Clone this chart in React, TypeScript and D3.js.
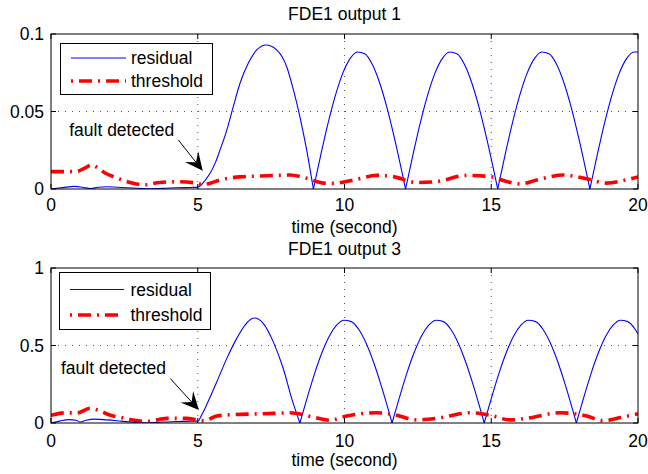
import React from 'react';
import * as d3 from 'd3';

const xTicks = [0, 5, 10, 15, 20];
const xTickLabels = ['0', '5', '10', '15', '20'];

const titles = ['FDE1 output 1', 'FDE1 output 3'];
const xLabel = 'time (second)';
const legendLabels = ['residual', 'threshold'];
const annotationText = 'fault detected';

const topYTicks = [0, 0.05, 0.1];
const topYTickLabels = ['0', '0.05', '0.1'];
const botYTicks = [0, 0.5, 1];
const botYTickLabels = ['0', '0.5', '1'];

// Top panel (output 1) residual
const topResT = [
  0, 0.4, 0.8, 1.1, 1.35, 1.6, 1.9, 2.3, 2.8, 3.3, 3.8, 4.3, 4.8,
  5.0, 5.1, 5.25, 5.42, 5.6, 5.76, 5.99, 6.21, 6.44, 6.72, 7.01, 7.33, 7.69, 8.03, 8.26, 8.48, 8.71, 8.94,
  9.19, 9.44, 9.69, 9.94, 10.19, 10.44, 10.69, 10.94, 11.19, 11.44, 11.69, 11.94, 12.08,
  12.33, 12.58, 12.83, 13.08, 13.33, 13.58, 13.83, 14.08, 14.33, 14.58, 14.83, 15.08, 15.22,
  15.47, 15.72, 15.97, 16.22, 16.47, 16.72, 16.97, 17.22, 17.47, 17.72, 17.97, 18.22, 18.36,
  18.61, 18.86, 19.11, 19.36, 19.61, 19.86, 20,
];
const topResV = [
  0, 0.0009, 0.0017, 0.001, 0.0003, 0.0011, 0.0015, 0.0011, 0.0006, 0.0002, 0.0004, 0.0008, 0.001,
  0.0012, 0.0022, 0.0055, 0.0101, 0.017, 0.0252, 0.038, 0.0531, 0.0682, 0.0811, 0.0897, 0.0929, 0.0897, 0.0789, 0.0639, 0.0467, 0.0252, 0,
  0.0219, 0.0425, 0.0604, 0.0746, 0.0841, 0.0884, 0.0872, 0.0806, 0.0689, 0.053, 0.0338, 0.0125, 0,
  0.0219, 0.0425, 0.0604, 0.0746, 0.0841, 0.0884, 0.0872, 0.0806, 0.0689, 0.053, 0.0338, 0.0125, 0,
  0.0219, 0.0425, 0.0604, 0.0746, 0.0841, 0.0884, 0.0872, 0.0806, 0.0689, 0.053, 0.0338, 0.0125, 0,
  0.0219, 0.0425, 0.0604, 0.0746, 0.0841, 0.0884, 0.0884,
];

// Top panel threshold
const topThrT = [
  0, 0.5, 0.9, 1.15, 1.39, 1.6, 1.84, 2.2, 2.6, 3.2, 3.7, 4.4, 4.97, 5.2, 5.42, 5.76, 6.44, 7.35, 8.14,
  8.71, 9.28, 9.6, 10.3, 11.1, 11.66, 12.46, 13.14, 14.16, 14.96, 15.53, 15.98, 16.55, 17.45, 18.25,
  18.93, 19.5, 20,
];
const topThrV = [
  0.0112, 0.0112, 0.0115, 0.0135, 0.0155, 0.0135, 0.0103, 0.0075, 0.0047, 0.0027, 0.0042, 0.0047, 0.0037, 0.0027, 0.0037, 0.0058, 0.0078, 0.0085, 0.009,
  0.0069, 0.0038, 0.0036, 0.0058, 0.0088, 0.008, 0.0042, 0.0048, 0.0088, 0.008, 0.0048, 0.0033, 0.0058, 0.009, 0.0066,
  0.0038, 0.0055, 0.0078,
];

// Bottom panel (output 3) residual
const botResT = [
  0, 0.3, 0.6, 0.85, 1.0, 1.2, 1.5, 1.9, 2.4, 2.9, 3.3, 3.8, 4.3, 4.8,
  5.0, 5.15, 5.3, 5.65, 5.99, 6.33, 6.61, 6.92, 7.23, 7.57, 7.91, 8.2, 8.48,
  8.73, 8.98, 9.23, 9.48, 9.73, 9.98, 10.23, 10.48, 10.73, 10.98, 11.23, 11.48, 11.62,
  11.87, 12.12, 12.37, 12.62, 12.87, 13.12, 13.37, 13.62, 13.87, 14.12, 14.37, 14.62, 14.76,
  15.01, 15.26, 15.51, 15.76, 16.01, 16.26, 16.51, 16.76, 17.01, 17.26, 17.51, 17.76, 17.9,
  18.15, 18.4, 18.65, 18.9, 19.15, 19.4, 19.65, 19.9, 20,
];
const botResV = [
  0, 0.012, 0.022, 0.018, 0.006, 0.018, 0.025, 0.02, 0.012, 0.004, 0.001, 0.006, 0.01, 0.012,
  0.012, 0.058, 0.116, 0.266, 0.417, 0.546, 0.632, 0.677, 0.643, 0.525, 0.353, 0.159, 0,
  0.164, 0.319, 0.453, 0.56, 0.631, 0.663, 0.654, 0.605, 0.518, 0.398, 0.254, 0.094, 0,
  0.164, 0.319, 0.453, 0.56, 0.631, 0.663, 0.654, 0.605, 0.518, 0.398, 0.254, 0.094, 0,
  0.164, 0.319, 0.453, 0.56, 0.631, 0.663, 0.654, 0.605, 0.518, 0.398, 0.254, 0.094, 0,
  0.164, 0.319, 0.453, 0.56, 0.631, 0.663, 0.654, 0.605, 0.574,
];

// Bottom panel threshold
const botThrT = [
  0, 0.5, 0.9, 1.33, 1.65, 2.0, 2.4, 2.8, 3.26, 3.94, 4.6, 5.2, 5.65, 6.3, 6.9, 7.6, 8.14, 8.9, 9.5,
  10.07, 11.1, 11.66, 12.46, 13.14, 14.27, 14.96, 15.64, 16.2, 17.34, 18.25, 18.8, 19.4, 20,
];
const botThrV = [
  0.05, 0.066, 0.065, 0.095, 0.08, 0.052, 0.035, 0.019, 0.01, 0.03, 0.03, 0.015, 0.045, 0.055, 0.058, 0.062, 0.066, 0.04, 0.018,
  0.045, 0.066, 0.055, 0.02, 0.03, 0.066, 0.05, 0.02, 0.03, 0.066, 0.045, 0.015, 0.035, 0.06,
];

const FONT = '"Liberation Sans", Arial, Helvetica, sans-serif';
const FS = 17.5;

type PanelProps = {
  id: string;
  title: string;
  left: number; right: number; top: number; bottom: number;
  yMax: number; yTicks: number[]; yTickLabels: string[];
  resT: number[]; resV: number[]; thrT: number[]; thrV: number[];
  legend: { x0: number; x1: number; y0: number; y1: number; row1: number; row2: number; lx0: number; lx1: number; tx: number };
  ann: { tx: number; ty: number; ax0: number; ay0: number; ax1: number; ay1: number };
  titleY: number; tickLabelY: number; xLabelY: number;
};

function splitSegments(ts: number[], vs: number[]) {
  const segs: [number, number][][] = [];
  let cur: [number, number][] = [];
  ts.forEach((t, i) => {
    cur.push([t, vs[i]]);
    if (vs[i] === 0 && t > 5 && i < ts.length - 1) {
      segs.push(cur);
      cur = [[t, vs[i]]];
    }
  });
  if (cur.length > 1) segs.push(cur);
  return segs;
}

function Panel(p: PanelProps) {
  const x = d3.scaleLinear().domain([0, 20]).range([p.left, p.right]);
  const y = d3.scaleLinear().domain([0, p.yMax]).range([p.bottom, p.top]);
  const line = d3.line<[number, number]>().x(d => x(d[0])).y(d => y(d[1])).curve(d3.curveMonotoneX);
  const resSegs = splitSegments(p.resT, p.resV);
  const thrPts: [number, number][] = p.thrT.map((t, i) => [t, p.thrV[i]]);
  const tick = 5;
  const gridX = xTicks.slice(1, -1);
  const gridY = p.yTicks.slice(1, -1);

  // arrow
  const ax0 = x(p.ann.ax0), ay0 = y(p.ann.ay0), ax1 = x(p.ann.ax1), ay1 = y(p.ann.ay1);
  const dx = ax1 - ax0, dy = ay1 - ay0;
  const len = Math.hypot(dx, dy);
  const ux = dx / len, uy = dy / len;
  const nx = -uy, ny = ux;
  const L = 18, W = 8.5;
  const head = [
    [ax1, ay1],
    [ax1 - ux * L + nx * W, ay1 - uy * L + ny * W],
    [ax1 - ux * L * 0.6, ay1 - uy * L * 0.6],
    [ax1 - ux * L - nx * W, ay1 - uy * L - ny * W],
  ];

  return (
    <g>
      <defs>
        <clipPath id={p.id}>
          <rect x={p.left} y={p.top} width={p.right - p.left} height={p.bottom - p.top} />
        </clipPath>
      </defs>
      <rect x={p.left} y={p.top} width={p.right - p.left} height={p.bottom - p.top} fill="#fff" />
      {gridX.map(v => (
        <line key={'gx' + v} x1={x(v)} x2={x(v)} y1={p.top} y2={p.bottom} stroke="#555" strokeWidth={1} strokeDasharray="1,6" />
      ))}
      {gridY.map(v => (
        <line key={'gy' + v} y1={y(v)} y2={y(v)} x1={p.left} x2={p.right} stroke="#555" strokeWidth={1} strokeDasharray="1,6" />
      ))}
      <g clipPath={`url(#${p.id})`}>
        {resSegs.map((s, i) => (
          <path key={'r' + i} d={line(s) || ''} fill="none" stroke="#0000ff" strokeWidth={1.1} />
        ))}
        <path d={line(thrPts) || ''} fill="none" stroke="#ff0000" strokeWidth={3.6} strokeDasharray="13,6,2,6" />
      </g>
      {xTicks.map(v => (
        <g key={'xt' + v}>
          <line x1={x(v)} x2={x(v)} y1={p.bottom} y2={p.bottom - tick} stroke="#000" />
          <line x1={x(v)} x2={x(v)} y1={p.top} y2={p.top + tick} stroke="#000" />
        </g>
      ))}
      {p.yTicks.map(v => (
        <g key={'yt' + v}>
          <line y1={y(v)} y2={y(v)} x1={p.left} x2={p.left + tick} stroke="#000" />
          <line y1={y(v)} y2={y(v)} x1={p.right} x2={p.right - tick} stroke="#000" />
        </g>
      ))}
      <rect x={p.left} y={p.top} width={p.right - p.left} height={p.bottom - p.top} fill="none" stroke="#000" strokeWidth={1} />
      {xTicks.map((v, i) => (
        <text key={'xl' + v} x={x(v)} y={p.tickLabelY} textAnchor="middle" fontSize={FS} fontFamily={FONT}>{xTickLabels[i]}</text>
      ))}
      {p.yTicks.map((v, i) => (
        <text key={'yl' + v} x={p.left - 7} y={y(v)} dy="0.36em" textAnchor="end" fontSize={FS} fontFamily={FONT}>{p.yTickLabels[i]}</text>
      ))}
      <text x={(p.left + p.right) / 2} y={p.titleY} textAnchor="middle" fontSize={FS} fontFamily={FONT}>{p.title}</text>
      <text x={(p.left + p.right) / 2} y={p.xLabelY} textAnchor="middle" fontSize={FS} fontFamily={FONT}>{xLabel}</text>
      <rect x={p.legend.x0} y={p.legend.y0} width={p.legend.x1 - p.legend.x0} height={p.legend.y1 - p.legend.y0} fill="#fff" stroke="#000" strokeWidth={1} />
      <line x1={p.legend.lx0} x2={p.legend.lx1} y1={p.legend.row1} y2={p.legend.row1} stroke="#0000ff" strokeWidth={1.1} />
      <text x={p.legend.tx} y={p.legend.row1} dy="0.36em" fontSize={FS} fontFamily={FONT}>{legendLabels[0]}</text>
      <line x1={p.legend.lx0} x2={p.legend.lx1} y1={p.legend.row2} y2={p.legend.row2} stroke="#ff0000" strokeWidth={3.6} strokeDasharray="2,6,13,6" />
      <text x={p.legend.tx} y={p.legend.row2} dy="0.36em" fontSize={FS} fontFamily={FONT}>{legendLabels[1]}</text>
      <text x={x(p.ann.tx)} y={y(p.ann.ty)} fontSize={FS} fontFamily={FONT}>{annotationText}</text>
      <line x1={ax0} y1={ay0} x2={ax1 - ux * L * 0.6} y2={ay1 - uy * L * 0.6} stroke="#000" strokeWidth={1} />
      <polygon points={head.map(q => q.join(',')).join(' ')} fill="#000" />
    </g>
  );
}

export default function App() {
  return (
    <svg width={648} height={474} style={{ position: 'absolute', left: 0, top: 0, background: '#fff' }}>
      <rect width={648} height={474} fill="#fff" />
      <Panel
        id="clipTop" title={titles[0]}
        left={51} right={638} top={34} bottom={189}
        yMax={0.1} yTicks={topYTicks} yTickLabels={topYTickLabels}
        resT={topResT} resV={topResV} thrT={topThrT} thrV={topThrV}
        legend={{ x0: 60.5, x1: 212.5, y0: 43.5, y1: 94.5, row1: 58, row2: 81, lx0: 71, lx1: 126, tx: 131 }}
        ann={{ tx: 0.62, ty: 0.0339, ax0: 4.34, ay0: 0.0316, ax1: 5.17, ay1: 0.0118 }}
        titleY={19.5} tickLabelY={211} xLabelY={233}
      />
      <Panel
        id="clipBot" title={titles[1]}
        left={51} right={638} top={268} bottom={423}
        yMax={1} yTicks={botYTicks} yTickLabels={botYTickLabels}
        resT={botResT} resV={botResV} thrT={botThrT} thrV={botThrV}
        legend={{ x0: 59.5, x1: 210.5, y0: 272.5, y1: 329.5, row1: 289.5, row2: 315, lx0: 70, lx1: 124, tx: 130.5 }}
        ann={{ tx: 0.34, ty: 0.316, ax0: 4.06, ay0: 0.288, ax1: 5.04, ay1: 0.084 }}
        titleY={255} tickLabelY={447} xLabelY={466}
      />
    </svg>
  );
}
